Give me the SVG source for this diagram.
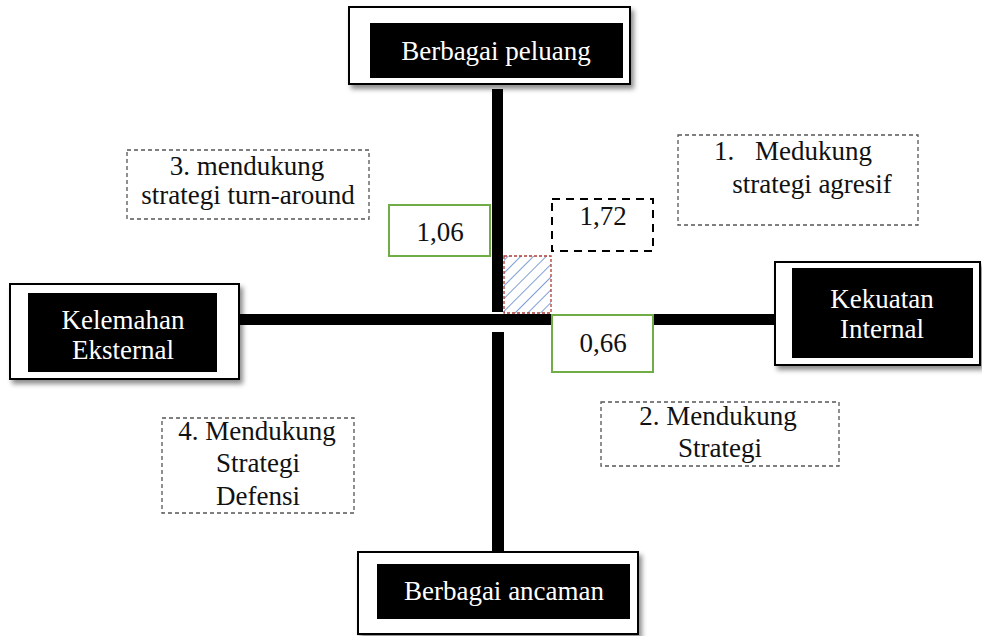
<svg xmlns="http://www.w3.org/2000/svg" width="982" height="636" viewBox="0 0 982 636">
<defs>
<filter id="sh" x="-10%" y="-10%" width="130%" height="140%">
<feDropShadow dx="3" dy="4" stdDeviation="2.5" flood-color="#000" flood-opacity="0.45"/>
</filter>
<pattern id="hatch" patternUnits="userSpaceOnUse" width="9" height="9" patternTransform="rotate(45)">
<line x1="0" y1="0" x2="0" y2="9" stroke="#7f9fd6" stroke-width="2"/>
</pattern>
<style>
.outer{fill:#fff;stroke:#000;stroke-width:2;filter:url(#sh)}
.inner{fill:#000}
.wt{fill:#fff;font-family:'Liberation Serif',serif;font-size:27px;text-anchor:middle}
.bt{fill:#111;font-family:'Liberation Serif',serif;font-size:27px;text-anchor:middle}
.dash{fill:#fff;stroke:#555;stroke-width:1.3;stroke-dasharray:4 3}
.green{fill:#fff;stroke:#70ad47;stroke-width:2}
.axis{fill:#000}
</style>
</defs>
<rect width="982" height="636" fill="#fff"/>

<g id="connectors">
<rect class="axis" x="492" y="89" width="11" height="223"/>
<rect class="axis" x="239" y="314" width="536" height="11"/>
<rect class="axis" x="492" y="332" width="12" height="220"/>
</g>

<g id="zone">
<rect x="504" y="256" width="47" height="57" fill="url(#hatch)" stroke="#b03a36" stroke-width="1.3" stroke-dasharray="3 2"/>
</g>

<g id="node-peluang">
<rect class="outer" x="349" y="7" width="281" height="77"/>
<rect class="inner" x="370" y="23" width="253" height="55"/>
<text class="wt" x="496" y="60">Berbagai peluang</text>
</g>

<g id="node-kelemahan">
<rect class="outer" x="10" y="284" width="229" height="95"/>
<rect class="inner" x="28" y="293" width="189" height="79"/>
<text class="wt" x="123" y="329">Kelemahan</text>
<text class="wt" x="123" y="359">Eksternal</text>
</g>

<g id="node-kekuatan">
<rect class="outer" x="775" y="262" width="205" height="103"/>
<rect class="inner" x="792" y="268" width="181" height="90"/>
<text class="wt" x="882" y="308">Kekuatan</text>
<text class="wt" x="882" y="338">Internal</text>
</g>

<g id="node-ancaman">
<rect class="outer" x="358" y="552" width="280" height="82"/>
<rect class="inner" x="377" y="564" width="253" height="55"/>
<text class="wt" x="504" y="600">Berbagai ancaman</text>
</g>

<g id="node-q3">
<rect class="dash" x="127" y="150" width="242" height="69"/>
<text class="bt" x="247" y="175">3. mendukung</text>
<text class="bt" x="248" y="204">strategi turn-around</text>
</g>

<g id="node-q1">
<rect class="dash" x="678" y="135" width="240" height="90"/>
<text class="bt" style="text-anchor:start" y="160"><tspan x="714">1.</tspan><tspan x="755">Medukung</tspan></text>
<text class="bt" x="812" y="193">strategi agresif</text>
</g>

<g id="node-q2">
<rect class="dash" x="601" y="402" width="238" height="64"/>
<text class="bt" x="718" y="425">2. Mendukung</text>
<text class="bt" x="720" y="457">Strategi</text>
</g>

<g id="node-q4">
<rect class="dash" x="162" y="418" width="192" height="95"/>
<text class="bt" x="257" y="440">4. Mendukung</text>
<text class="bt" x="258" y="472">Strategi</text>
<text class="bt" x="258" y="505">Defensi</text>
</g>

<g id="node-106">
<rect class="green" x="389" y="205" width="101" height="51"/>
<text class="bt" x="440" y="241">1,06</text>
</g>

<g id="node-172">
<rect x="552" y="199" width="101" height="52" fill="#fff" stroke="#000" stroke-width="2" stroke-dasharray="8 6"/>
<text class="bt" x="603" y="225">1,72</text>
</g>

<g id="node-066">
<rect class="green" x="552" y="315" width="101" height="57"/>
<text class="bt" x="603" y="352">0,66</text>
</g>
</svg>
